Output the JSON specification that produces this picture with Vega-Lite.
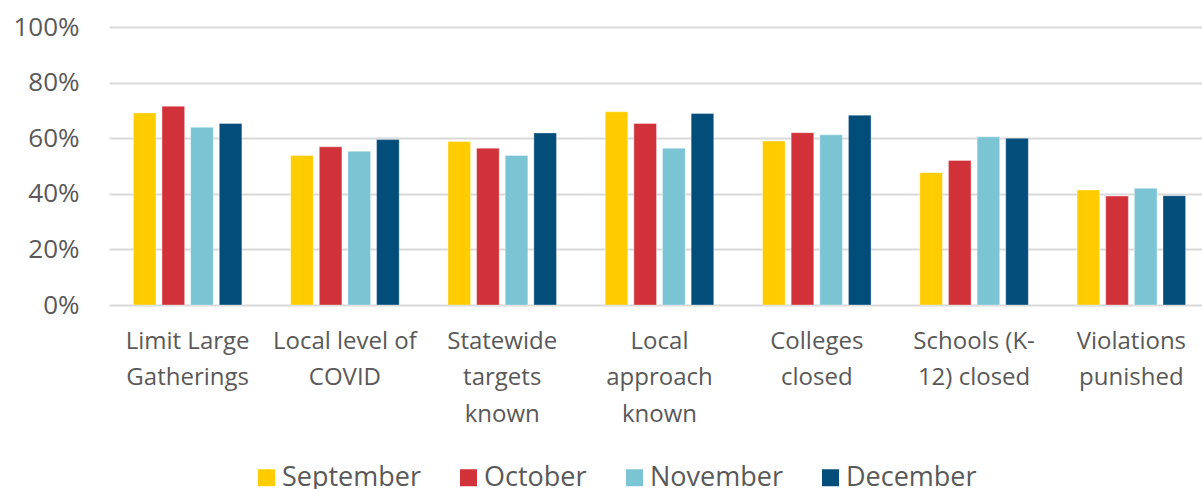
{
  "$schema": "https://vega.github.io/schema/vega-lite/v6.json",
  "width": 1101,
  "height": 278,
  "autosize": {"type": "none"},
  "padding": {"left": 109, "top": 27, "right": 0, "bottom": 184},
  "background": "white",
  "config": {
    "view": {"stroke": null},
    "font": "Open Sans",
    "text": {"font": "Open Sans"}
  },
  "data": {
    "values": [
      {"item": "Limit Large Gatherings", "month": "September", "value": 0.691},
      {"item": "Limit Large Gatherings", "month": "October", "value": 0.715},
      {"item": "Limit Large Gatherings", "month": "November", "value": 0.639},
      {"item": "Limit Large Gatherings", "month": "December", "value": 0.653},
      {"item": "Local level of COVID", "month": "September", "value": 0.538},
      {"item": "Local level of COVID", "month": "October", "value": 0.569},
      {"item": "Local level of COVID", "month": "November", "value": 0.553},
      {"item": "Local level of COVID", "month": "December", "value": 0.595},
      {"item": "Statewide targets known", "month": "September", "value": 0.588},
      {"item": "Statewide targets known", "month": "October", "value": 0.564},
      {"item": "Statewide targets known", "month": "November", "value": 0.538},
      {"item": "Statewide targets known", "month": "December", "value": 0.619},
      {"item": "Local approach known", "month": "September", "value": 0.695},
      {"item": "Local approach known", "month": "October", "value": 0.653},
      {"item": "Local approach known", "month": "November", "value": 0.564},
      {"item": "Local approach known", "month": "December", "value": 0.689},
      {"item": "Colleges closed", "month": "September", "value": 0.590},
      {"item": "Colleges closed", "month": "October", "value": 0.620},
      {"item": "Colleges closed", "month": "November", "value": 0.612},
      {"item": "Colleges closed", "month": "December", "value": 0.683},
      {"item": "Schools (K-12) closed", "month": "September", "value": 0.476},
      {"item": "Schools (K-12) closed", "month": "October", "value": 0.520},
      {"item": "Schools (K-12) closed", "month": "November", "value": 0.605},
      {"item": "Schools (K-12) closed", "month": "December", "value": 0.600},
      {"item": "Violations punished", "month": "September", "value": 0.414},
      {"item": "Violations punished", "month": "October", "value": 0.392},
      {"item": "Violations punished", "month": "November", "value": 0.420},
      {"item": "Violations punished", "month": "December", "value": 0.393}
    ]
  },
  "mark": {"type": "bar", "stroke": "white", "strokeWidth": 0.6, "strokeOpacity": 0.6},
  "encoding": {
    "x": {
      "field": "item",
      "type": "nominal",
      "sort": null,
      "scale": {"paddingInner": 0.31, "paddingOuter": 0.155},
      "axis": {
        "title": null,
        "domain": false,
        "ticks": false,
        "labelAngle": 0,
        "labelFont": "Open Sans",
        "labelFontSize": 24,
        "labelColor": "#595959",
        "labelPadding": 24,
        "labelLineHeight": 36.6,
        "labelLimit": 0,
        "labelBaseline": "top",
        "labelExpr": "datum.value == 'Limit Large Gatherings' ? ['Limit Large', 'Gatherings'] : datum.value == 'Local level of COVID' ? ['Local level of', 'COVID'] : datum.value == 'Statewide targets known' ? ['Statewide', 'targets', 'known'] : datum.value == 'Local approach known' ? ['Local', 'approach', 'known'] : datum.value == 'Colleges closed' ? ['Colleges', 'closed'] : datum.value == 'Schools (K-12) closed' ? ['Schools  (K-', '12) closed'] : ['Violations', 'punished']"
      }
    },
    "xOffset": {
      "field": "month",
      "type": "nominal",
      "sort": ["September", "October", "November", "December"],
      "scale": {"paddingInner": 0.21, "paddingOuter": 0}
    },
    "y": {
      "field": "value",
      "type": "quantitative",
      "scale": {"domain": [0, 1], "nice": false},
      "axis": {
        "title": null,
        "format": ".0%",
        "values": [0, 0.2, 0.4, 0.6, 0.8, 1],
        "domain": false,
        "ticks": false,
        "labelFont": "Open Sans",
        "labelFontSize": 26,
        "labelColor": "#595959",
        "labelPadding": 30,
        "gridColor": "#d9d9d9",
        "gridWidth": 2
      }
    },
    "color": {
      "field": "month",
      "type": "nominal",
      "sort": ["September", "October", "November", "December"],
      "scale": {
        "domain": ["September", "October", "November", "December"],
        "range": ["#FFCC00", "#D13239", "#7AC4D4", "#034D7B"]
      },
      "legend": {
        "title": null,
        "orient": "none",
        "direction": "horizontal",
        "legendX": 144,
        "legendY": 437,
        "padding": 0,
        "symbolType": "square",
        "symbolSize": 289,
        "symbolStrokeWidth": 0,
        "labelFont": "Open Sans",
        "labelFontSize": 27,
        "labelColor": "#595959",
        "labelOffset": 2,
        "columnPadding": 34,
        "labelLimit": 0
      }
    }
  }
}
